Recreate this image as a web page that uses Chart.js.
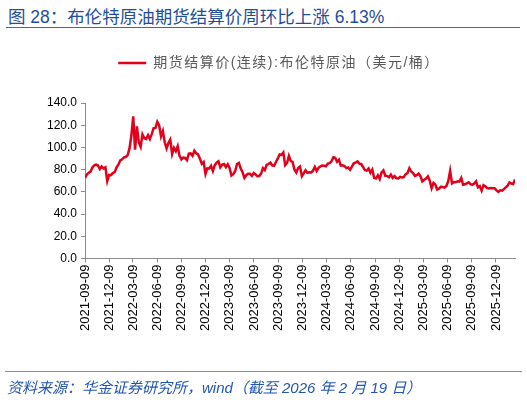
<!DOCTYPE html>
<html>
<head>
<meta charset="utf-8">
<script src="https://cdn.jsdelivr.net/npm/chart.js@4.4.1/dist/chart.umd.min.js"></script>
<style>
  html, body { margin: 0; padding: 0; background: #fff; }
  #wrap { position: relative; width: 527px; height: 400px; overflow: hidden;
          font-family: Arial, "Liberation Sans", "Noto Sans CJK SC", sans-serif; }
  #titulo { position: absolute; left: 8px; top: 3px; font-size: 17.5px; color: #1f4e9a; white-space: nowrap; }
  #linea1 { position: absolute; left: 6px; top: 27px; width: 514px; height: 1px; background: #2f6db5; }
  #linea2 { position: absolute; left: 5px; top: 371px; width: 517px; height: 1px; background: #5b9bd5; }
  #fuente { position: absolute; left: 7px; top: 376px; font-size: 15px; font-style: italic; color: #2456b0; white-space: nowrap; }
  canvas { position: absolute; left: 0; top: 0; }
</style>
</head>
<body>
<div id="wrap">
  <div id="titulo">图 28：布伦特原油期货结算价周环比上涨 6.13%</div>
  <div id="linea1"></div>
  <canvas id="grafica" width="527" height="400"></canvas>
  <div id="linea2"></div>
  <div id="fuente">资料来源：华金证券研究所，wind（截至 2026 年 2 月 19 日）</div>
</div>
<script>
  // =======================
  // DATOS (semanal, jueves)
  // =======================
  const fechaInicio = "2021-09-09";
  const serieNombre = "期货结算价(连续):布伦特原油（美元/桶）";

  const brent2021 = [72.6, 75.7, 77.2, 78.3, 81.9, 84.0, 84.6, 83.7, 80.5, 82.9, 81.2, 82.2, 69.7, 75.2, 75.0, 76.9, 77.8];
  const brent2022 = [82.0, 84.5, 88.4, 89.3, 91.1, 91.4, 93.0, 99.1, 110.5, 128.0, 98.0, 119.0, 104.7,
    100.6, 111.7, 108.3, 107.6, 111.0, 107.5, 112.0, 117.4, 117.6, 123.1, 119.8, 110.0, 114.8,
    104.6, 99.1, 103.9, 107.1, 94.1, 99.6, 96.6, 101.2, 92.4, 89.2, 90.8, 90.5, 88.5,
    94.4, 94.6, 92.4, 97.0, 94.7, 93.7, 89.8, 85.3, 86.9, 76.2, 81.2, 81.0, 83.5];
  const brent2023 = [78.7, 84.0, 86.2, 87.5, 82.2, 84.5, 85.1, 82.2, 84.8, 81.6, 74.7, 75.9, 78.6,
    85.1, 86.1, 81.1, 77.7, 72.5, 75.0, 76.3, 76.3, 74.3, 77.0, 75.7, 74.1, 74.3,
    76.5, 81.4, 79.6, 84.2, 85.1, 86.4, 83.9, 83.4, 86.9, 89.9, 93.7, 93.3, 95.4,
    84.1, 86.0, 92.4, 87.9, 86.9, 80.0, 77.4, 81.4, 82.8, 74.1, 76.6, 79.4, 77.2];
  const brent2024 = [77.6, 77.4, 79.1, 82.4, 78.7, 81.6, 82.9, 83.7, 83.6, 83.0, 85.4, 85.8, 87.5,
    91.2, 90.7, 87.1, 89.0, 83.7, 83.9, 83.3, 81.4, 81.9, 79.9, 82.8, 85.7, 86.4,
    87.4, 85.4, 85.1, 82.4, 79.5, 79.2, 81.0, 77.2, 80.0, 72.7, 72.0, 74.9, 71.6,
    77.6, 79.4, 74.5, 74.4, 73.2, 75.6, 72.6, 74.2, 72.3, 72.1, 73.4, 72.9, 73.3];
  const brent2025 = [75.9, 76.9, 81.3, 78.3, 76.9, 74.3, 75.0, 76.5, 74.0, 69.5, 70.9, 72.0, 73.9,
    70.1, 63.3, 68.0, 66.6, 62.1, 62.8, 64.5, 64.4, 63.9, 65.3, 69.8, 78.9, 67.7,
    68.8, 68.6, 69.5, 69.2, 72.5, 66.4, 66.8, 67.7, 68.6, 67.0, 66.4, 67.4, 69.4,
    64.1, 65.2, 61.1, 66.0, 65.0, 63.4, 63.0, 63.4, 63.2, 63.3, 61.3, 60.0, 61.4];
  const brent2026 = [61.0, 62.5, 64.0, 65.5, 68.5, 67.5, 67.1, 71.2];

  const etiquetasX = [
    "2021-09-09", "2021-12-09", "2022-03-09", "2022-06-09", "2022-09-09", "2022-12-09",
    "2023-03-09", "2023-06-09", "2023-09-09", "2023-12-09", "2024-03-09", "2024-06-09",
    "2024-09-09", "2024-12-09", "2025-03-09", "2025-06-09", "2025-09-09", "2025-12-09"
  ];
  const ticksY = [0, 20, 40, 60, 80, 100, 120, 140];

  // =======================
  // PREPARAR PUNTOS
  // =======================
  const DIA = 86400000;
  const t0 = Date.parse(fechaInicio);
  const diaDe = (f) => Math.round((Date.parse(f) - t0) / DIA);

  const valores = [].concat(brent2021, brent2022, brent2023, brent2024, brent2025, brent2026);
  const puntos = valores.map((v, i) => ({ x: i * 7, y: v }));

  const posTicks = etiquetasX.map(diaDe);

  const gris = "#8c8c8c";
  const fuente = "Arial, 'Liberation Sans', 'Noto Sans CJK SC', sans-serif";

  // leyenda: texto espaciado y hueco extra debajo
  const ajusteLeyenda = {
    id: "ajusteLeyenda",
    beforeInit(chart) {
      const leyenda = chart.legend;
      const fitOrig = leyenda.fit;
      const drawOrig = leyenda.draw;
      leyenda.fit = function () {
        const ctx = this.ctx;
        ctx.save();
        ctx.letterSpacing = "1.5px";
        fitOrig.call(this);
        ctx.restore();
        this.height += 23;
      };
      leyenda.draw = function () {
        const ctx = this.ctx;
        ctx.save();
        ctx.letterSpacing = "1.5px";
        drawOrig.call(this);
        ctx.restore();
      };
    }
  };

  new Chart(document.getElementById("grafica"), {
    type: "line",
    data: {
      datasets: [{
        label: serieNombre,
        data: puntos,
        borderColor: "#e2001a",
        backgroundColor: "#e2001a",
        borderWidth: 2.5,
        pointRadius: 0,
        tension: 0
      }]
    },
    options: {
      responsive: false,
      animation: false,
      layout: { padding: { top: 46, left: 43, right: 12, bottom: 67 } },
      plugins: {
        legend: {
          position: "top",
          labels: {
            usePointStyle: true,
            pointStyle: "line",
            pointStyleWidth: 28,
            color: "#595959",
            font: { family: fuente, size: 14 },
            padding: 10
          }
        },
        tooltip: { enabled: false }
      },
      scales: {
        x: {
          type: "linear",
          min: 0,
          max: (valores.length - 1) * 7,
          afterBuildTicks: (eje) => {
            eje.ticks = posTicks.map(v => ({ value: v }));
          },
          ticks: {
            autoSkip: false,
            minRotation: 90,
            maxRotation: 90,
            color: "#000",
            padding: 2,
            font: { family: fuente, size: 13 },
            callback: (v) => {
              const i = posTicks.indexOf(v);
              return i >= 0 ? etiquetasX[i] : "";
            }
          },
          grid: { drawOnChartArea: false, color: gris, tickLength: 4 },
          border: { color: gris }
        },
        y: {
          min: 0,
          max: 140,
          afterBuildTicks: (eje) => {
            eje.ticks = ticksY.map(v => ({ value: v }));
          },
          ticks: {
            color: "#000",
            padding: 4,
            font: { family: fuente, size: 12 },
            callback: (v) => Number(v).toFixed(1)
          },
          grid: { drawOnChartArea: false, color: gris, tickLength: 4 },
          border: { color: gris }
        }
      }
    },
    plugins: [ajusteLeyenda]
  });
</script>
</body>
</html>
